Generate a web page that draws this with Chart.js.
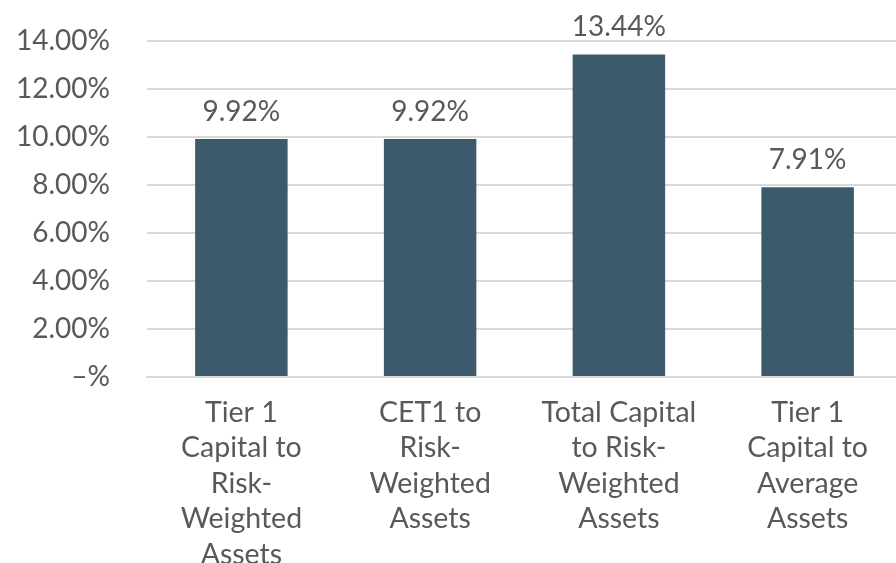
<!DOCTYPE html>
<html>
<head>
<meta charset="utf-8">
<script src="https://cdn.jsdelivr.net/npm/chart.js@4"></script>
<style>
  html, body { margin: 0; padding: 0; background: #fff; overflow: hidden; }
  #wrap { width: 904px; height: 563px; }
</style>
</head>
<body>
<div id="wrap"><canvas id="myChart"></canvas></div>
<script>
// datos
const categorias = [
  ['Tier 1', 'Capital to', 'Risk-', 'Weighted', 'Assets'],
  ['CET1 to', 'Risk-', 'Weighted', 'Assets'],
  ['Total Capital', 'to Risk-', 'Weighted', 'Assets'],
  ['Tier 1', 'Capital to', 'Average', 'Assets']
];
const valores = [9.92, 9.92, 13.44, 7.91];
const ticksY = [0, 2, 4, 6, 8, 10, 12, 14];

const colorBarra = '#3d5a6c';
const colorTexto = '#595959';
const colorGrid = '#d9d9d9';

// etiquetas arriba de las barras
const etiquetas = {
  id: 'etiquetas',
  afterDatasetsDraw(chart) {
    const c = chart.ctx;
    const meta = chart.getDatasetMeta(0);
    c.save();
    c.font = '28px Lato';
    c.fillStyle = colorTexto;
    c.textAlign = 'center';
    c.textBaseline = 'middle';
    meta.data.forEach((bar, i) => {
      c.fillText(valores[i].toFixed(2) + '%', bar.x, bar.y - 27);
    });
    c.restore();
  }
};

const ctx = document.getElementById('myChart');
new Chart(ctx, {
  type: 'bar',
  data: {
    labels: categorias,
    datasets: [{
      data: valores,
      backgroundColor: colorBarra,
      barPercentage: 1,
      categoryPercentage: 0.49
    }]
  },
  options: {
    responsive: true,
    maintainAspectRatio: false,
    animation: false,
    layout: { padding: { top: 41, right: 2, left: 0, bottom: 0 } },
    plugins: {
      legend: { display: false },
      tooltip: { enabled: false }
    },
    scales: {
      x: {
        grid: { display: false },
        border: { color: colorGrid, width: 2 },
        ticks: {
          color: colorTexto,
          font: { family: 'Lato', size: 28.5, lineHeight: 1.245 },
          padding: 10,
          maxRotation: 0,
          autoSkip: false
        },
        afterFit: s => { s.height = 186; s.paddingLeft = 0; s.paddingRight = 0; }
      },
      y: {
        min: 0,
        max: 14,
        afterBuildTicks: s => { s.ticks = ticksY.map(v => ({ value: v })); },
        grid: { color: colorGrid, lineWidth: 2, drawTicks: false },
        border: { display: false },
        ticks: {
          color: colorTexto,
          font: { family: 'Lato', size: 28 },
          padding: 37,
          callback: v => v === 0 ? '\u2013%' : v.toFixed(2) + '%'
        },
        afterFit: s => { s.width = 147; s.paddingTop = 0; s.paddingBottom = 0; }
      }
    }
  },
  plugins: [etiquetas]
});
</script>
</body>
</html>
